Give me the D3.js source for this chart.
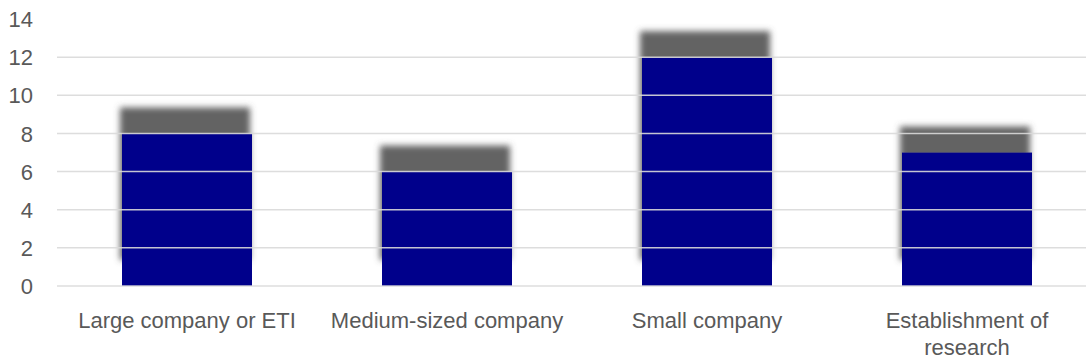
<!DOCTYPE html>
<html>
<head>
<meta charset="utf-8">
<script src="https://cdn.jsdelivr.net/npm/d3@7"></script>
<style>
  body { margin: 0; background: #fff; }
  text { font-family: "Liberation Sans", Arial, sans-serif; }
</style>
</head>
<body>
<div id="chart"></div>
<script>
const categories = ['Large company or ETI', 'Medium-sized company', 'Small company', 'Establishment of research']
const values = [8, 6, 12, 7]
const yTicks = [0, 2, 4, 6, 8, 10, 12, 14]

const width = 1086,
      height = 362

const svg = d3.select('#chart')
  .append('svg')
  .attr('width', width)
  .attr('height', height)

const x = d3.scaleBand()
  .domain(categories)
  .range([57, 1097])
  .paddingInner(0.5)
  .paddingOuter(0.25)

const y = d3.scaleLinear()
  .domain([0, 14])
  .range([286, 19])

// blurred shadow that sits above each bar
const defs = svg.append('defs')
defs.append('filter')
  .attr('id', 'shadow')
  .attr('x', '-20%').attr('y', '-50%')
  .attr('width', '140%').attr('height', '160%')
  .append('feDropShadow')
  .attr('dx', -2)
  .attr('dy', -26)
  .attr('stdDeviation', 3)
  .attr('flood-color', '#5a5a5a')
  .attr('flood-opacity', 0.95)

svg.append('g')
  .selectAll('rect')
  .data(values)
  .enter().append('rect')
  .attr('x', (d, i) => x(categories[i]))
  .attr('y', d => y(d))
  .attr('width', x.bandwidth())
  .attr('height', d => y(0) - y(d))
  .attr('fill', '#00008b')
  .attr('filter', 'url(#shadow)')

// gridlines drawn over the bars
svg.append('g')
  .selectAll('line')
  .data(yTicks.filter(d => d < 14))
  .enter().append('line')
  .attr('x1', 57)
  .attr('x2', width)
  .attr('y1', d => y(d))
  .attr('y2', d => y(d))
  .attr('stroke', '#d9d9d9')
  .attr('stroke-opacity', 0.9)
  .attr('stroke-width', 1.5)

svg.append('g')
  .selectAll('text')
  .data(yTicks)
  .enter().append('text')
  .attr('x', 33)
  .attr('y', d => y(d))
  .attr('dy', '0.37em')
  .attr('text-anchor', 'end')
  .attr('font-size', 22)
  .attr('fill', '#595959')
  .text(d => d)

const xl = svg.append('g')
  .selectAll('text')
  .data(categories)
  .enter().append('text')
  .attr('x', d => x(d) + x.bandwidth() / 2)
  .attr('y', 328)
  .attr('text-anchor', 'middle')
  .attr('font-size', 22)
  .attr('fill', '#595959')

xl.each(function(d) {
  const t = d3.select(this)
  if (d === 'Establishment of research') {
    t.append('tspan').attr('x', x(d) + x.bandwidth() / 2).text('Establishment of')
    t.append('tspan').attr('x', x(d) + x.bandwidth() / 2).attr('dy', 27).text('research')
  } else {
    t.text(d)
  }
})
</script>
</body>
</html>
